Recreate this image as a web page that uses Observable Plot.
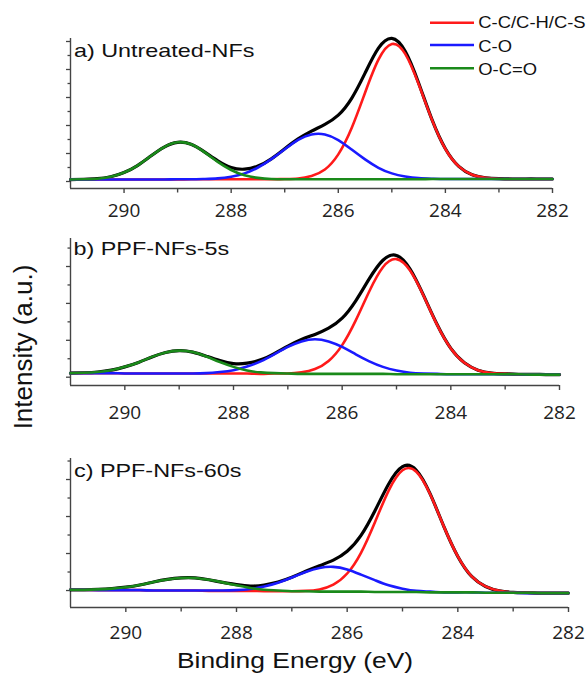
<!DOCTYPE html>
<html><head><meta charset="utf-8">
<script src="https://cdn.jsdelivr.net/npm/d3@7"></script>
<script src="https://cdn.jsdelivr.net/npm/@observablehq/plot@0.6"></script>
<style>
body{margin:0;background:#fff;}
#wrap{position:relative;width:588px;height:674px;overflow:hidden;font-family:"Liberation Sans",Arial,sans-serif;}
#wrap svg{position:absolute;left:0;}
</style></head><body><div id="wrap"></div>
<script>
// Binding energy grid (eV), shared by all panels
const bindingEnergy = [291,290.75,290.5,290.25,290,289.75,289.5,289.25,289,288.75,288.5,288.25,288,287.75,287.5,287.25,287,286.75,286.5,
  286.25,286,285.75,285.5,285.25,285,284.75,284.5,284.25,284,283.75,283.5,283.25,283,282.75,282.5,282.25,282];

// a) Untreated-NFs  (intensity, a.u.)
const aCC    = [7,7,7,7,7,7,7,7,7,8,8,8,8,8,8,8,9,11,20, 43,97,191,317,435,491,456,348,220,116,54,24,13,10,9,9,9,9];
const aCO    = [7,7,7,7,7,7,7,7,8,8,9,11,17,29,50,80,115,149,168, 168,148,114,79,49,29,18,12,10,9,9,9,9,9,9,9,9,9];
const aOCO   = [7,8,10,17,32,57,91,123,140,133,105,70,41,22,13,9,8,8,8, 8,8,8,8,8,8,8,8,9,9,9,9,9,9,9,9,9,9];
const aTotal = [7,8,10,17,32,57,91,123,140,133,106,74,50,44,55,81,117,152,180, 204,237,297,387,476,511,465,352,221,117,54,24,13,10,9,9,9,9];

// b) PPF-NFs-5s
const bCC    = [11,11,11,11,10,10,10,10,10,10,10,10,10,10,9,10,10,13,22, 44,87,154,233,298,320,289,220,141,78,39,19,11,9,8,8,7,7];
const bCO    = [11,11,11,11,10,10,10,10,10,10,11,14,19,29,43,62,82,97,103, 97,82,62,43,28,18,12,10,9,8,8,8,8,8,8,7,7,7];
const bOCO   = [11,12,14,19,28,40,55,67,72,68,56,41,28,18,13,11,10,9,9, 9,9,9,9,9,8,8,8,8,8,8,8,8,8,8,7,7,7];
const bTotal = [11,12,14,19,28,40,55,67,72,68,57,45,37,38,47,64,84,102,116, 133,160,207,267,317,330,293,221,142,78,39,19,11,9,8,8,7,7];

// c) PPF-NFs-60s
const cCC    = [2,2,1,1,1,1,0,0,0,0,-1,-1,-1,-1,-2,-2,-2,-1,3, 16,46,102,184,270,325,321,260,172,92,38,11,-1,-5,-6,-7,-7,-7];
const cCO    = [2,2,1,1,1,1,0,0,0,0,0,0,1,4,11,21,35,50,61, 64,57,43,28,14,5,-1,-3,-5,-5,-5,-6,-6,-6,-7,-7,-7,-7];
const cOCO   = [2,2,3,5,9,15,23,30,34,34,29,22,14,7,2,0,-2,-2,-3, -3,-3,-3,-4,-4,-4,-4,-5,-5,-5,-5,-6,-6,-6,-6,-7,-7,-7];
const cTotal = [2,2,3,5,9,15,23,30,34,34,29,22,16,12,15,23,36,52,67, 82,106,149,215,288,335,325,261,172,92,38,11,-1,-5,-6,-7,-7,-7];

const panelTitles = ["a) Untreated-NFs","b) PPF-NFs-5s","c) PPF-NFs-60s"];
const seriesNames = ["C-C/C-H/C-S","C-O","O-C=O"];
const xMajorTicks = [290,288,286,284,282];
const xMinorTicks = [289,287,285,283];

const colors = {total:"#000000", cc:"#ff1a1a", co:"#1a1aff", oco:"#1a8a1a"};

function rowsOf(total, cc, co, oco){
  return bindingEnergy.map((e,i)=>({eV:e, total:total[i], cc:cc[i], co:co[i], oco:oco[i]}));
}

function panel(rows,c){
  const marks=[
    Plot.ruleX([291],{y1:c.ydom[0],y2:c.ydom[1],stroke:"#444",strokeWidth:1.4}),
    Plot.ruleY([c.ydom[0]],{x1:291,x2:282,stroke:"#444",strokeWidth:1.4}),
    Plot.axisX({ticks:xMajorTicks,tickSize:5,tickPadding:c.tp,tickFormat:d=>String(d),fontSize:19,fontFamily:"Open Sans",fill:"#222",stroke:"#444",strokeWidth:1.4,label:null}),
    Plot.axisX({ticks:xMinorTicks,tickSize:4.5,tickFormat:()=>"",stroke:"#444",strokeWidth:1.4,label:null}),
    Plot.axisY({ticks:c.yMajor,tickSize:4,tickFormat:()=>"",stroke:"#444",strokeWidth:1.3,label:null}),
    Plot.axisY({ticks:c.yMinor,tickSize:2.5,tickFormat:()=>"",stroke:"#444",strokeWidth:1.3,label:null})
  ];
  for(const k of ["total","cc","co","oco"]){
    marks.push(Plot.line(rows,{x:"eV",y:k,stroke:colors[k],strokeWidth:k==="total"?3.2:2.6,curve:"natural"}));
  }
  const svg=Plot.plot({width:588,height:c.h,marginLeft:70,marginRight:c.mr,marginTop:c.mt,marginBottom:c.mb,
    x:{domain:[291,282]},y:{domain:c.ydom},style:{background:"transparent",overflow:"visible"},marks});
  svg.style.top=c.top+"px";
  document.getElementById("wrap").appendChild(svg);
}
panel(rowsOf(aTotal,aCC,aCO,aOCO),{top:0,h:222,mt:38,mb:34,mr:36,ydom:[-25,510.7],yMajor:[0,100,200,300,400,500],yMinor:[50,150,250,350,450],tp:10});
panel(rowsOf(bTotal,bCC,bCO,bOCO),{top:222,h:200,mt:16,mb:37,mr:29,ydom:[-22.5,375.9],yMajor:[0,100,200,300],yMinor:[50,150,250,350],tp:15});
panel(rowsOf(cTotal,cCC,cCO,cOCO),{top:422,h:252,mt:36,mb:67,mr:20,ydom:[-45.9,356.8],yMajor:[0,100,200,300],yMinor:[50,150,250,350],tp:13});

// Titles, axis labels and legend
const ns="http://www.w3.org/2000/svg";
const ov=document.createElementNS(ns,"svg");
ov.setAttribute("width",588);ov.setAttribute("height",674);ov.style.top="0px";
ov.style.fontFamily='"Liberation Sans",Arial,sans-serif';
function txt(s,x,y,size,sx,anchor,rot){
  const t=document.createElementNS(ns,"text");
  t.textContent=s;t.setAttribute("font-size",size);t.setAttribute("fill","#111");
  t.setAttribute("text-anchor",anchor||"start");
  t.setAttribute("transform",`translate(${x},${y})`+(rot?` rotate(${rot})`:"")+` scale(${sx},1)`);
  ov.appendChild(t);
}
function ln(x1,x2,y,col){
  const l=document.createElementNS(ns,"line");
  l.setAttribute("x1",x1);l.setAttribute("x2",x2);l.setAttribute("y1",y);l.setAttribute("y2",y);
  l.setAttribute("stroke",col);l.setAttribute("stroke-width",2.6);ov.appendChild(l);
}
txt(panelTitles[0],74,56.7,19,1.23);
txt(panelTitles[1],73.5,255,19,1.23);
txt(panelTitles[2],74,477.3,19,1.23);
txt("Intensity (a.u.)",31.5,347,26,1,"middle",-90);
txt("Binding Energy (eV)",295,668.3,22,1.2,"middle");
const legendRows=[[seriesNames[0],colors.cc,22.7,28.3],[seriesNames[1],colors.co,45,51.7],[seriesNames[2],colors.oco,68.3,75]];
for(const [s,c,ly,ty] of legendRows){ln(430,474,ly,c);txt(s,478.3,ty,16.3,1.13);}
document.getElementById("wrap").appendChild(ov);
</script></body></html>
